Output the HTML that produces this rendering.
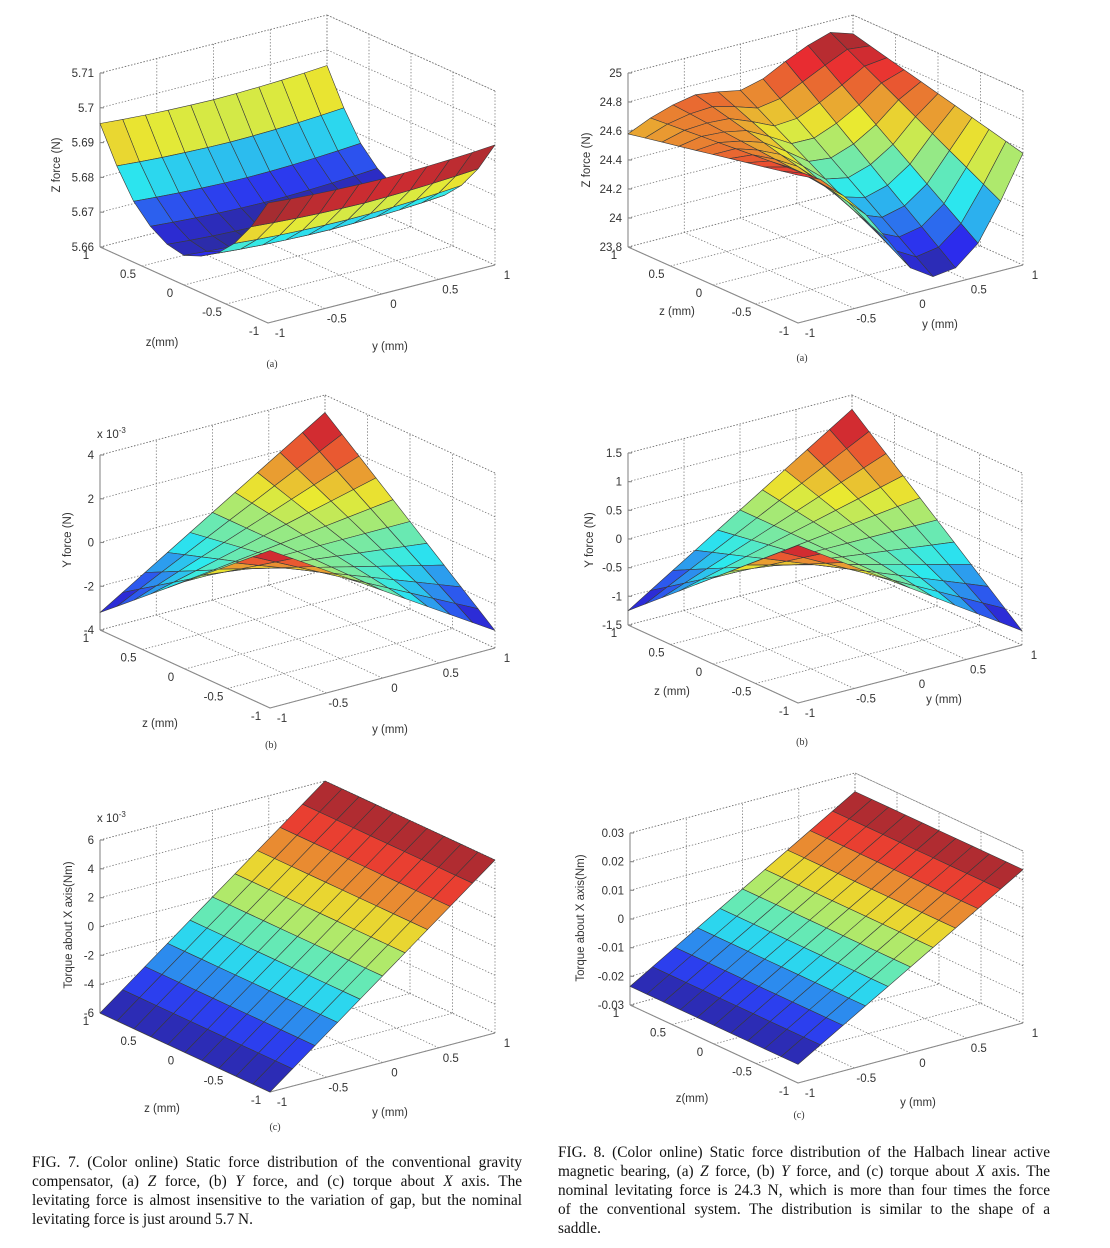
<!DOCTYPE html>
<html><head><meta charset="utf-8">
<style>
html,body{margin:0;padding:0;background:#fff;}
#wrap{position:relative;width:1110px;height:1248px;overflow:hidden;background:#fff;}
svg{position:absolute;left:0;top:0;}
.cap{position:absolute;width:490px;font-family:"Liberation Serif",serif;font-size:15.3px;line-height:19px;color:#111;}
.cap div{text-align:justify;text-align-last:justify;white-space:nowrap;}
.cap div.last{text-align-last:left;}
</style></head>
<body>
<div id="wrap">
<svg id="svg" width="1110" height="1248" viewBox="0 0 1110 1248"></svg>
<div class="cap" style="left:32px;top:1153px;">
<div>FIG. 7. (Color online) Static force distribution of the conventional gravity</div>
<div>compensator, (a) <i>Z</i> force, (b) <i>Y</i> force, and (c) torque about <i>X</i> axis. The</div>
<div>levitating force is almost insensitive to the variation of gap, but the nominal</div>
<div class="last">levitating force is just around 5.7 N.</div>
</div>
<div class="cap" style="left:558px;top:1143px;width:492px;">
<div>FIG. 8. (Color online) Static force distribution of the Halbach linear active</div>
<div>magnetic bearing, (a) <i>Z</i> force, (b) <i>Y</i> force, and (c) torque about <i>X</i> axis. The</div>
<div>nominal levitating force is 24.3 N, which is more than four times the force</div>
<div>of the conventional system. The distribution is similar to the shape of a</div>
<div class="last">saddle.</div>
</div>
</div>
<script>
// shared grid coordinates (mm)
const zVals = [-1,-0.8,-0.6,-0.4,-0.2,0,0.2,0.4,0.6,0.8,1];
const yVals = [-1,-0.8,-0.6,-0.4,-0.2,0,0.2,0.4,0.6,0.8,1];
const axisTicks = [-1,-0.5,0,0.5,1];
const axisTickLabels = ['-1','-0.5','0','0.5','1'];

// Fig7 (a) Z force conventional
const la_zProfile = [5.693,5.684,5.677,5.672,5.669,5.667,5.668,5.671,5.676,5.684,5.694];
const la_yOffset = [0.0015,0.001,0.0006,0.0003,0.0001,0,0.0001,0.0003,0.0006,0.001,0.0015];
const la_vTicks = [5.66,5.67,5.68,5.69,5.70,5.71];
const la_vLabels = ['5.66','5.67','5.68','5.69','5.7','5.71'];
// Fig8 (a) Z force Halbach
const ra_ySlope = [-0.12,-0.05,0.05,0.15,0.25,0.35,0.42,0.45,0.42,0.32,0.15];
const ra_yOffset = [0.40,0.40,0.35,0.28,0.16,0.03,0.00,0.05,0.15,0.30,0.42];
const ra_center = 24.3;
const ra_vTicks = [23.8,24,24.2,24.4,24.6,24.8,25];
const ra_vLabels = ['23.8','24','24.2','24.4','24.6','24.8','25'];
// Fig7 (b) Y force (x1e-3)
const lb_zProfile = [-1,-0.8,-0.6,-0.4,-0.2,0,0.2,0.4,0.6,0.8,1];
const lb_yProfile = [-1,-0.8,-0.6,-0.4,-0.2,0,0.2,0.4,0.6,0.8,1];
const lb_amp = 3.2;
const lb_vTicks = [-4,-2,0,2,4];
const lb_vLabels = ['-4','-2','0','2','4'];
// Fig8 (b) Y force
const rb_zProfile = [-1,-0.8,-0.6,-0.4,-0.2,0,0.2,0.4,0.6,0.8,1];
const rb_yProfile = [-1,-0.8,-0.6,-0.4,-0.2,0,0.2,0.4,0.6,0.8,1];
const rb_amp = 1.25;
const rb_vTicks = [-1.5,-1,-0.5,0,0.5,1,1.5];
const rb_vLabels = ['-1.5','-1','-0.5','0','0.5','1','1.5'];
// Fig7 (c) torque (x1e-3)
const lc_yProfile = [-6,-4.8,-3.6,-2.4,-1.2,0,1.2,2.4,3.6,4.8,6];
const lc_vTicks = [-6,-4,-2,0,2,4,6];
const lc_vLabels = ['-6','-4','-2','0','2','4','6'];
// Fig8 (c) torque
const rc_yProfile = [-0.0235,-0.0188,-0.0141,-0.0094,-0.0047,0,0.0047,0.0094,0.0141,0.0188,0.0235];
const rc_vTicks = [-0.03,-0.02,-0.01,0,0.01,0.02,0.03];
const rc_vLabels = ['-0.03','-0.02','-0.01','0','0.01','0.02','0.03'];

const NS='http://www.w3.org/2000/svg';
const svg=document.getElementById('svg');
function mk(tag,attrs,parent){const e=document.createElementNS(NS,tag);for(const k in attrs)e.setAttribute(k,attrs[k]);(parent||svg).appendChild(e);return e;}

function jet(t){
  t=Math.max(0,Math.min(1,t));
  const cl=v=>Math.max(0,Math.min(1,v));
  let r=cl(1.5-Math.abs(4*t-3)),g=cl(1.5-Math.abs(4*t-2)),b=cl(1.5-Math.abs(4*t-1));
  const k=0.26;
  r=r*255*(1-k)+170*k; g=g*255*(1-k)+170*k; b=b*255*(1-k)+190*k;
  return 'rgb('+Math.round(r)+','+Math.round(g)+','+Math.round(b)+')';
}

function drawPlot(cfg){
  const g=mk('g',{});
  
  
  const L=cfg.L,F=cfg.F,R=cfg.R;
  const P=(a,b,v)=>[F[0]+a*(L[0]-F[0])+b*(R[0]-F[0]), F[1]+a*(L[1]-F[1])+b*(R[1]-F[1])-cfg.Ev*(v-cfg.vmin)/(cfg.vmax-cfg.vmin)];
  const za=z=>(z+1)/2, yb=y=>(y+1)/2;
  const vmin=cfg.vmin,vmax=cfg.vmax;
  const dot={stroke:'#777','stroke-width':0.8,'stroke-dasharray':'1.4,1.8',fill:'none'};
  const line=(p,q,st)=>mk('line',Object.assign({x1:p[0].toFixed(1),y1:p[1].toFixed(1),x2:q[0].toFixed(1),y2:q[1].toFixed(1)},st),g);
  axisTicks.forEach(t=>{ line(P(za(t),0,vmin),P(za(t),1,vmin),dot); });
  axisTicks.forEach(t=>{ line(P(0,yb(t),vmin),P(1,yb(t),vmin),dot); });
  axisTicks.forEach(t=>{ line(P(1,yb(t),vmin),P(1,yb(t),vmax),dot); });
  cfg.vTicks.forEach(v=>{ line(P(1,0,v),P(1,1,v),dot); });
  axisTicks.forEach(t=>{ line(P(za(t),1,vmin),P(za(t),1,vmax),dot); });
  cfg.vTicks.forEach(v=>{ line(P(0,1,v),P(1,1,v),dot); });
  line(P(1,0,vmax),P(1,1,vmax),dot);line(P(1,1,vmax),P(0,1,vmax),dot);
  const sol={stroke:'#8a8a8a','stroke-width':1.1};
  line(P(1,0,vmin),P(1,0,vmax),sol);
  line(P(1,0,vmin),P(0,0,vmin),sol);
  line(P(0,0,vmin),P(0,1,vmin),sol);
  const tf={'font-family':'Liberation Sans, sans-serif','font-size':'11.5px',fill:'#333'};
  cfg.vTicks.forEach((v,k)=>{
    const p=P(1,0,v);
    line(p,[p[0]+4,p[1]],sol);
    const t=mk('text',Object.assign({x:(p[0]-6).toFixed(1),y:(p[1]+4).toFixed(1),'text-anchor':'end'},tf),g);
    t.textContent=cfg.vLabels[k];
    
    
  });
  axisTicks.forEach((z,k)=>{
    const p=P(za(z),0,vmin);
    const t=mk('text',Object.assign({x:(p[0]-14).toFixed(1),y:(p[1]+12).toFixed(1),'text-anchor':'middle'},tf),g);
    t.textContent=axisTickLabels[k];
    
    
  });
  axisTicks.forEach((y,k)=>{
    const p=P(0,yb(y),vmin);
    const t=mk('text',Object.assign({x:(p[0]+12).toFixed(1),y:(p[1]+14).toFixed(1),'text-anchor':'middle'},tf),g);
    t.textContent=axisTickLabels[k];
    
    
  });
  const vals=[];let dmin=Infinity,dmax=-Infinity;
  for(let i=0;i<zVals.length;i++){vals.push([]);for(let j=0;j<yVals.length;j++){const v=cfg.value(i,j);vals[i].push(v);dmin=Math.min(dmin,v);dmax=Math.max(dmax,v);}}
  const quads=[];
  const dz=Math.abs(L[1]-F[1]),dy=Math.abs(R[1]-F[1]);
  for(let i=0;i<zVals.length-1;i++)for(let j=0;j<yVals.length-1;j++){
    const a=(za(zVals[i])+za(zVals[i+1]))/2,b=(yb(yVals[j])+yb(yVals[j+1]))/2;
    quads.push({i,j,d:a*dz+b*dy});
  }
  quads.sort((p,q)=>q.d-p.d);
  const surf=mk('g',{},g);
  
  
  quads.forEach(q=>{
    const i=q.i,j=q.j;
    const c=[[i,j],[i+1,j],[i+1,j+1],[i,j+1]];
    const pts=c.map(([a,b])=>P(za(zVals[a]),yb(yVals[b]),vals[a][b]));
    const cv=cfg.flat?vals[i][j]:(vals[i][j]+vals[i+1][j]+vals[i+1][j+1]+vals[i][j+1])/4;
    const e=mk('polygon',{points:pts.map(p=>p[0].toFixed(1)+','+p[1].toFixed(1)).join(' '),fill:jet((cv-dmin)/(dmax-dmin||1)),stroke:'#3a3a3a','stroke-width':0.6,'stroke-linejoin':'round'},surf);
    
    
  });
  const lf={'font-family':'Liberation Sans, sans-serif','font-size':'11.5px',fill:'#333'};
  const zt=mk('text',Object.assign({x:cfg.zl[0],y:cfg.zl[1],'text-anchor':'middle'},lf),g);zt.textContent=cfg.zlab;
  
  const yt=mk('text',Object.assign({x:cfg.yl[0],y:cfg.yl[1],'text-anchor':'middle'},lf),g);yt.textContent='y (mm)';
  
  const vt=mk('text',Object.assign({x:cfg.vl[0],y:cfg.vl[1],'text-anchor':'middle',transform:'rotate(-90 '+cfg.vl[0]+' '+cfg.vl[1]+')'},lf),g);vt.textContent=cfg.vlab;
  
  const st=mk('text',{x:cfg.sl[0],y:cfg.sl[1],'text-anchor':'middle','font-family':'Liberation Serif, serif','font-size':'10px',fill:'#333'},g);st.textContent=cfg.sub;
  
  if(cfg.exp){
    const ex=mk('text',Object.assign({x:cfg.exp[0],y:cfg.exp[1]},lf),g);
    
    ex.innerHTML='x 10<tspan dy="-5" font-size="8">-3</tspan>';
  }
}

drawPlot({name:'fig7a-z-force',flat:true,L:[100,247],F:[268,323],R:[495,265],Ev:174,vmin:5.66,vmax:5.71,vTicks:la_vTicks,vLabels:la_vLabels,
  value:(i,j)=>la_zProfile[i]+la_yOffset[j],zl:[162,346],zlab:'z(mm)',yl:[390,350],vl:[60,165],vlab:'Z force (N)',sl:[272,367],sub:'(a)'});
drawPlot({name:'fig8a-z-force',L:[628,247],F:[798,323],R:[1023,265],Ev:174,vmin:23.8,vmax:25,vTicks:ra_vTicks,vLabels:ra_vLabels,
  value:(i,j)=>ra_center+zVals[i]*ra_ySlope[j]+ra_yOffset[j],zl:[677,315],zlab:'z (mm)',yl:[940,328],vl:[590,160],vlab:'Z force (N)',sl:[802,361],sub:'(a)'});
drawPlot({name:'fig7b-y-force',L:[100,630],F:[270,708],R:[495,648],Ev:175,vmin:-4,vmax:4,vTicks:lb_vTicks,vLabels:lb_vLabels,
  value:(i,j)=>lb_amp*lb_zProfile[i]*lb_yProfile[j],zl:[160,727],zlab:'z (mm)',yl:[390,733],vl:[71,540],vlab:'Y force (N)',sl:[271,748],sub:'(b)',exp:[97,438]});
drawPlot({name:'fig8b-y-force',L:[628,625],F:[798,703],R:[1022,645],Ev:172,vmin:-1.5,vmax:1.5,vTicks:rb_vTicks,vLabels:rb_vLabels,
  value:(i,j)=>rb_amp*rb_zProfile[i]*rb_yProfile[j],zl:[672,695],zlab:'z (mm)',yl:[944,703],vl:[593,540],vlab:'Y force (N)',sl:[802,745],sub:'(b)'});
drawPlot({name:'fig7c-torque',L:[100,1013],F:[270,1092],R:[495,1033],Ev:173,vmin:-6,vmax:6,vTicks:lc_vTicks,vLabels:lc_vLabels,
  value:(i,j)=>lc_yProfile[j],zl:[162,1112],zlab:'z (mm)',yl:[390,1116],vl:[72,925],vlab:'Torque about X axis(Nm)',sl:[275,1130],sub:'(c)',exp:[97,822]});
drawPlot({name:'fig8c-torque',L:[630,1005],F:[798,1083],R:[1023,1023],Ev:172,vmin:-0.03,vmax:0.03,vTicks:rc_vTicks,vLabels:rc_vLabels,
  value:(i,j)=>rc_yProfile[j],zl:[692,1102],zlab:'z(mm)',yl:[918,1106],vl:[584,918],vlab:'Torque about X axis(Nm)',sl:[799,1118],sub:'(c)'});
</script>
</body></html>
